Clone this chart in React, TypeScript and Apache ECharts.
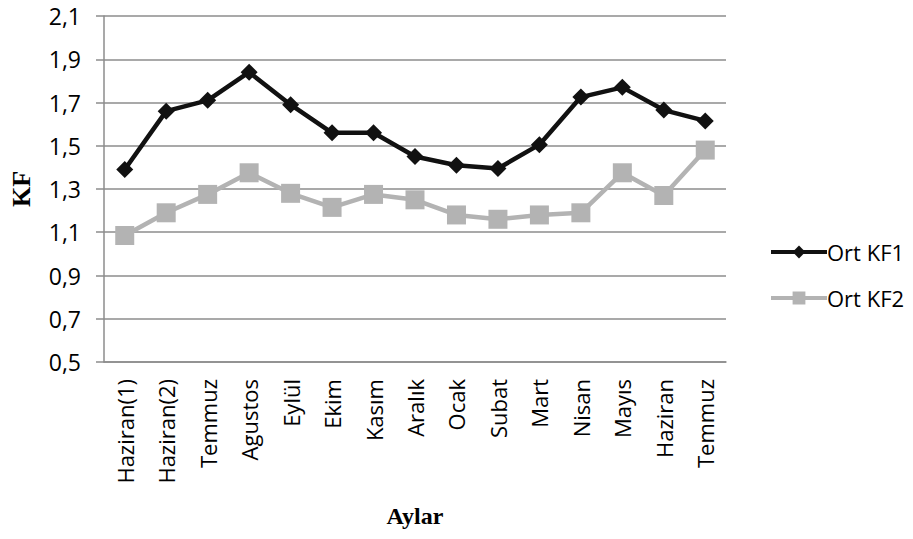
import React, { useEffect, useRef } from "react";
import * as echarts from "echarts";

const categories = [
  "Haziran(1)", "Haziran(2)", "Temmuz", "Agustos", "Eylül", "Ekim", "Kasım",
  "Aralık", "Ocak", "Subat", "Mart", "Nisan", "Mayıs", "Haziran", "Temmuz",
];
const ortKF1 = [1.39, 1.66, 1.71, 1.84, 1.69, 1.56, 1.56, 1.45, 1.41, 1.395, 1.505, 1.725, 1.77, 1.665, 1.615];
const ortKF2 = [1.085, 1.19, 1.275, 1.375, 1.28, 1.215, 1.275, 1.25, 1.18, 1.16, 1.18, 1.19, 1.375, 1.27, 1.48];
const seriesNames = ["Ort KF1", "Ort KF2"];
const yTitle = "KF";
const xTitle = "Aylar";

const FONT = "'Open Sans', 'Noto Sans', sans-serif";
const SERIF = "'Liberation Serif', 'DejaVu Serif', serif";

export default function App() {
  const ref = useRef<HTMLDivElement>(null);
  useEffect(() => {
    if (!ref.current) return;
    const chart = echarts.init(ref.current, null, { renderer: "svg" });
    chart.setOption({
      animation: false,
      backgroundColor: "#ffffff",
      grid: { left: 103, right: 187, top: 16, bottom: 177, containLabel: false },
      legend: {
        orient: "vertical",
        left: 764,
        top: 236,
        itemWidth: 56,
        itemHeight: 16,
        itemGap: 24,
        textStyle: { fontFamily: FONT, fontSize: 22, color: "#000", padding: [0, 0, 0, -5] },
        data: [
          { name: seriesNames[0], lineStyle: { width: 4, color: "#111111" } },
          { name: seriesNames[1], lineStyle: { width: 4, color: "#b3b3b3" } },
        ],
      },
      xAxis: {
        type: "category",
        data: categories,
        boundaryGap: true,
        axisLine: { lineStyle: { color: "#8c8c8c", width: 1.5 } },
        axisTick: { show: false },
        axisLabel: {
          rotate: 90,
          interval: 0,
          margin: 17,
          fontFamily: FONT,
          fontSize: 22,
          color: "#000",
        },
        name: xTitle,
        nameLocation: "middle",
        nameGap: 142,
        nameTextStyle: { fontFamily: SERIF, fontSize: 24, fontWeight: "bold", color: "#000" },
      },
      yAxis: {
        type: "value",
        min: 0.5,
        max: 2.1,
        interval: 0.2,
        axisLine: { show: true, lineStyle: { color: "#8c8c8c", width: 1.5 } },
        axisTick: { show: true, length: 8, lineStyle: { color: "#8c8c8c", width: 1.5 } },
        splitLine: { lineStyle: { color: "#8c8c8c", width: 1.5 } },
        axisLabel: {
          margin: 23,
          fontFamily: FONT,
          fontSize: 23,
          color: "#000",
          formatter: (v: number) => v.toFixed(1).replace(".", ","),
        },
        name: yTitle,
        nameLocation: "middle",
        nameGap: 70,
        nameRotate: 90,
        nameTextStyle: { fontFamily: SERIF, fontSize: 26, fontWeight: "bold", color: "#000" },
      },
      series: [
        {
          name: seriesNames[0],
          type: "line",
          data: ortKF1,
          symbol: "diamond",
          symbolSize: 17,
          lineStyle: { color: "#111111", width: 4.5 },
          itemStyle: { color: "#111111" },
          z: 3,
        },
        {
          name: seriesNames[1],
          type: "line",
          data: ortKF2,
          symbol: "rect",
          symbolSize: 19,
          lineStyle: { color: "#b3b3b3", width: 4.5 },
          itemStyle: { color: "#b3b3b3" },
          z: 2,
        },
      ],
    });
    return () => chart.dispose();
  }, []);
  return <div ref={ref} style={{ width: 913, height: 539, margin: -8 }} />;
}
